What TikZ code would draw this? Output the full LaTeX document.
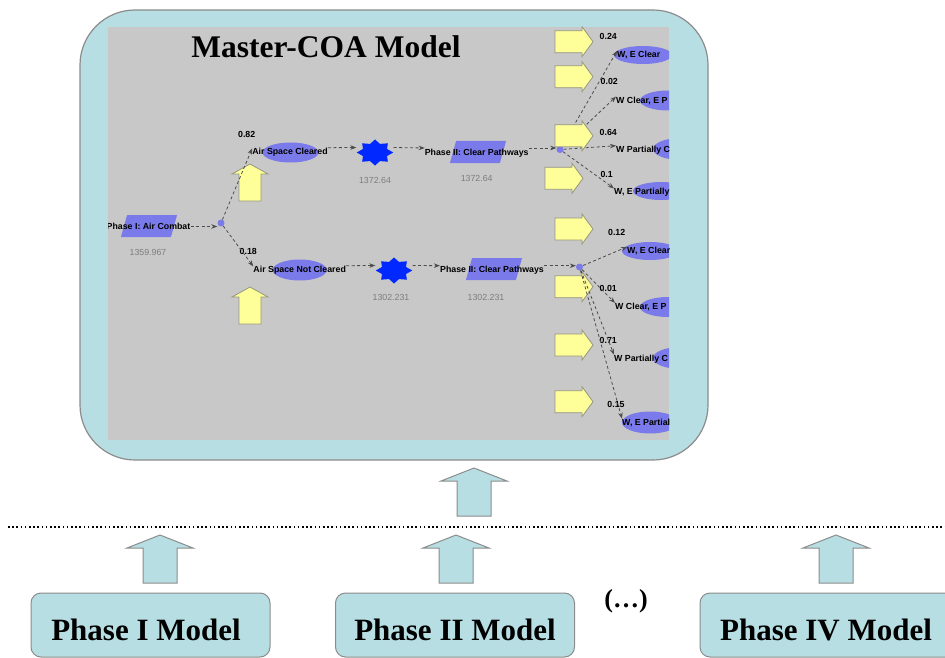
\documentclass[tikz,border=0pt]{standalone}
\usepackage{fontspec}
\setmainfont{Liberation Serif}
\newfontfamily\diagfont{Liberation Sans}
\usetikzlibrary{arrows.meta, shapes.geometric}

\definecolor{boxblue}{RGB}{183,222,227}
\definecolor{edgegray}{RGB}{140,140,140}
\definecolor{screengray}{RGB}{200,200,200}
\definecolor{nodeblue}{RGB}{122,122,235}
\definecolor{starblue}{RGB}{0,40,255}
\definecolor{valgray}{RGB}{125,125,125}
\definecolor{padyellow}{RGB}{255,255,153}
\definecolor{padedge}{RGB}{150,150,130}

\tikzset{
    mastbox/.style={draw=edgegray, line width=1.2pt, fill=boxblue, rounded corners=55pt},
    phasebox/.style={draw=edgegray, line width=1pt, fill=boxblue, rounded corners=10pt, minimum width=239pt, minimum height=64pt},
    bigtext/.style={font=\bfseries\fontsize{31}{36}\selectfont, inner sep=0pt},
    para/.style={rectangle, xslant=0.28, fill=nodeblue, minimum width=50pt, minimum height=22pt, inner sep=0pt},
    oval/.style={ellipse, fill=nodeblue, minimum width=56pt, minimum height=20pt, inner sep=0pt},
    chance/.style={circle, fill=nodeblue, minimum size=7pt, inner sep=0pt},
    util/.style={star, star points=8, star point ratio=1.4, fill=starblue, minimum size=26pt, inner sep=0pt, xscale=1.4},
    lbl/.style={font=\diagfont\bfseries\fontsize{8.8}{10}\selectfont, inner sep=0pt},
    val/.style={font=\diagfont\fontsize{8.8}{10}\selectfont, text=valgray, inner sep=0pt},
    link/.style={->, >={Stealth[length=6pt, width=4.5pt]}, dash pattern=on 3pt off 2.5pt, line width=0.8pt, draw=black!70},
    blkblue/.style={draw=edgegray, line width=1pt, fill=boxblue},
    blkyellow/.style={draw=padedge, line width=0.8pt, fill=padyellow},
    upblue/.pic={\draw[blkblue] (0,0) -- (33,13) -- (17,13) -- (17,48) -- (-17,48) -- (-17,13) -- (-33,13) -- cycle;},
    upyellow/.pic={\draw[blkyellow] (0,0) -- (18,10) -- (11,10) -- (11,37) -- (-11,37) -- (-11,10) -- (-18,10) -- cycle;},
    rightyellow/.pic={\draw[blkyellow] (0,0) -- (-11,-15) -- (-11,-11) -- (-38,-11) -- (-38,11) -- (-11,11) -- (-11,15) -- cycle;},
}

\begin{document}
\begin{tikzpicture}[x=1pt, y=-1pt]
    \clip (0,0) rectangle (945,658);
    \draw[mastbox] (80,10) rectangle (708,460);
    \fill[screengray] (108,27) rectangle (669,440);
    \node[font=\bfseries\fontsize{31.5}{36}\selectfont, inner sep=0pt] (title) at (326,47) {Master-COA Model};
    \begin{scope}
        \clip (108,27) rectangle (669,440);
        \pic at (250,164) {upyellow};
        \pic at (250,287) {upyellow};
        \foreach \y in {229,286.7,345,401.7}
            \pic at (593,\y) {rightyellow};

        \node[para] (combatbox) at (149,226) {};
        \node[lbl] (combat) at (148.5,226.5) {Phase I: Air Combat};
        \node[val] (combatval) at (148,252) {1359.967};
        \node[chance] (dot1) at (221,223) {};

        \node[oval] (clearedbox) at (290.5,152.5) {};
        \node[lbl] (cleared) at (290,152.7) {Air Space Cleared};
        \node[util] (star1) at (375,152.5) {};
        \node[val] (star1val) at (375,180) {1372.64};
        \node[para] (path1box) at (478,152) {};
        \node[lbl] (path1) at (476.7,153) {Phase II: Clear Pathways};
        \node[val] (path1val) at (476.7,178.3) {1372.64};
        \node[chance] (dotA) at (560,149.5) {};

        \node[oval, minimum width=54pt, minimum height=21pt] (notclearedbox) at (299.7,270) {};
        \node[lbl] (notcleared) at (299.7,270.7) {Air Space Not Cleared};
        \node[util] (star2) at (394,270.5) {};
        \node[val] (star2val) at (391,297) {1302.231};
        \node[para] (path2box) at (494,269) {};
        \node[lbl] (path2) at (492,270.7) {Phase II: Clear Pathways};
        \node[val] (path2val) at (486,297) {1302.231};
        \node[chance] (dotB) at (579.5,267) {};

        \node[oval, minimum width=58pt, minimum height=18pt] (out1box) at (643,55) {};
        \node[oval] (out2box) at (668,100.5) {};
        \node[oval, minimum height=22pt] (out3box) at (681,149) {};
        \node[oval, minimum height=18pt] (out4box) at (661,191) {};
        \node[oval, minimum height=18pt] (out5box) at (650,251) {};
        \node[oval] (out6box) at (668,307) {};
        \node[oval, minimum height=22pt] (out7box) at (681,358) {};
        \node[oval, minimum height=22pt] (out8box) at (650,422.5) {};

        \node[lbl, anchor=west] (out1) at (617,55) {W, E Clear};
        \node[lbl, anchor=west] (out2) at (616,100.7) {W Clear, E P};
        \node[lbl, anchor=west] (out3) at (616,150) {W Partially C};
        \node[lbl, anchor=west] (out4) at (614,192.7) {W, E Partially};
        \node[lbl, anchor=west] (out5) at (627,251) {W, E Clear};
        \node[lbl, anchor=west] (out6) at (615,307) {W Clear, E P};
        \node[lbl, anchor=west] (out7) at (614,359) {W Partially C};
        \node[lbl, anchor=west] (out8) at (622,422.7) {W, E Partial};

        \node[lbl] (pr1) at (246.7,134) {0.82};
        \node[lbl] (pr2) at (248.3,251.7) {0.18};
        \node[lbl] (pr3) at (608.3,36) {0.24};
        \node[lbl] (pr4) at (609.3,81.7) {0.02};
        \node[lbl] (pr5) at (608.3,132.3) {0.64};
        \node[lbl] (pr6) at (606.7,174) {0.1};
        \node[lbl] (pr7) at (616.7,232.3) {0.12};
        \node[lbl] (pr8) at (608.3,288.3) {0.01};
        \node[lbl] (pr9) at (608.3,340) {0.71};
        \node[lbl] (pr10) at (616,404) {0.15};

        \draw[link] (combat.east) -- (combat.east -| dot1.west);
        \draw[link] (dot1) -- (cleared.north west);
        \draw[link] (dot1) -- (notcleared.north west);
        \draw[link] ([yshift=5pt]cleared.east) -- ([yshift=5pt]star1.west);
        \draw[link] ([yshift=5pt]star1.east) -- ([yshift=5pt]path1.west);
        \draw[link] ([yshift=5pt]path1.east) -- ([yshift=5pt]path1.east -| dotA.west);
        \draw[link] ([yshift=5pt]notcleared.east) -- ([yshift=5pt]star2.west);
        \draw[link] ([yshift=5pt]star2.east) -- ([yshift=5pt]path2.west);
        \draw[link] ([yshift=5pt]path2.east) -- ([yshift=5pt]path2.east -| dotB.west);
        \draw[link] (dotA) -- (out1.north west);
        \draw[link] (dotA) -- (out2.north west);
        \draw[link] (dotA) -- (out3.north west);
        \draw[link] (dotA) -- (out4.north west);
        \draw[link] (dotB) -- (out5.north west);
        \draw[link] (dotB) -- (out6.north west);
        \draw[link] (dotB) -- (out7.north west);
        \draw[link] (dotB) -- (out8.north west);

        \pic at (593,41.7) {rightyellow};
        \pic at (593,76.7) {rightyellow};
        \pic at (593,135.8) {rightyellow};
        \pic at (583,178.3) {rightyellow};
    \end{scope}

    \pic at (474,468) {upblue};
    \draw[line width=1.6pt, dash pattern=on 1.6pt off 2.6pt] (8,527) -- (945,527);
    \pic at (160,535) {upblue};
    \pic at (456,535) {upblue};
    \pic at (836,535) {upblue};

    \node[phasebox] (ph1box) at (150.5,625) {};
    \node[phasebox] (ph2box) at (455,625) {};
    \node[phasebox, minimum width=262pt] (ph4box) at (831,625) {};
    \node[bigtext] (ph1) at (146,630) {Phase I Model};
    \node[bigtext] (ph2) at (455,630) {Phase II Model};
    \node[bigtext] (ph4) at (826,630) {Phase IV Model};
    \node[font=\bfseries\fontsize{26}{30}\selectfont, inner sep=0pt] (more) at (626,601) {(\dots)};
\end{tikzpicture}
\end{document}
